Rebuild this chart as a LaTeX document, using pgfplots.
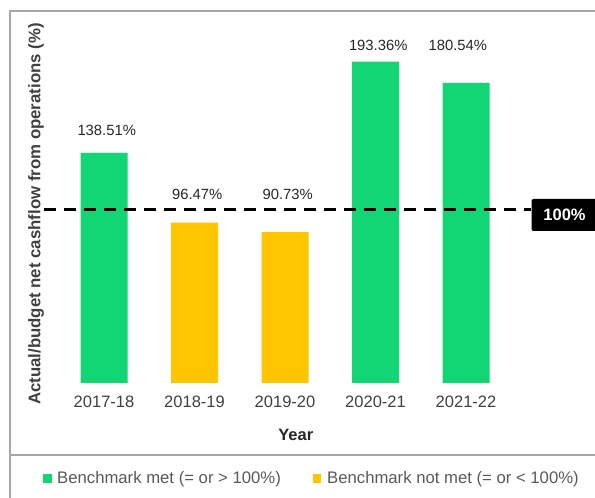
\documentclass[border=0pt]{standalone}
\usepackage{fontspec}
\setmainfont{Liberation Sans}
\usepackage{pgfplots}
\pgfplotsset{compat=1.18}
\definecolor{bgreen}{HTML}{11D673}
\definecolor{byellow}{HTML}{FFC600}
\definecolor{txtgray}{HTML}{404040}
\definecolor{leggray}{HTML}{595959}
\definecolor{darktxt}{HTML}{262626}
\definecolor{framegray}{HTML}{A6A6A6}
\begin{document}
\begin{tikzpicture}
\useasboundingbox (0bp,0bp) rectangle (595bp,498bp);
\draw[framegray, line width=1.5bp] (10bp,-1bp) -- (10bp,487bp) -- (596bp,487bp);
\draw[framegray, line width=1.5bp] (10bp,43bp) -- (596bp,43bp);
\begin{axis}[
  at={(45bp,115bp)}, anchor=south west,
  scale only axis, width=486bp, height=349bp,
  xmin=-0.652, xmax=4.718, ymin=0, ymax=210,
  clip=false,
  axis line style={draw=none},
  ytick=\empty,
  xtick={0,1,2,3,4},
  xticklabels={2017-18,2018-19,2019-20,2020-21,2021-22},
  major tick length=0pt,
  xticklabel style={font=\fontsize{16.5bp}{18bp}\selectfont, text=txtgray, inner sep=0pt, anchor=north, yshift=-13bp},
  xlabel={Year},
  xlabel style={at={(axis description cs:0.516,-0.149)}, anchor=center, inner sep=0pt, font=\bfseries\fontsize{16.5bp}{18bp}\selectfont, text=darktxt},
  ylabel={Actual/budget net cashflow from operations (\%)},
  ylabel style={at={(axis description cs:-0.0185,0.484)}, anchor=center, inner sep=0pt, font=\bfseries\fontsize{16.8bp}{18bp}\selectfont, text=txtgray},
]
\addplot[ybar, bar width=47bp, bar shift=0pt, fill=bgreen, draw=none] coordinates {(0,138.51) (3,193.36) (4,180.54)};
\addplot[ybar, bar width=47bp, bar shift=0pt, fill=byellow, draw=none] coordinates {(1,96.47) (2,90.73)};
\addplot[black, line width=3.2bp, dash pattern=on 12bp off 8bp] coordinates {(-0.663,104.2) (4.718,104.2)};
\node[font=\fontsize{14.8bp}{16bp}\selectfont, text=darktxt, inner sep=0pt] at (axis cs:0.03,152.1) {138.51\%};
\node[font=\fontsize{14.8bp}{16bp}\selectfont, text=darktxt, inner sep=0pt] at (axis cs:1.03,113.6) {96.47\%};
\node[font=\fontsize{14.8bp}{16bp}\selectfont, text=darktxt, inner sep=0pt] at (axis cs:2.03,113.6) {90.73\%};
\node[font=\fontsize{14.8bp}{16bp}\selectfont, text=darktxt, inner sep=0pt] at (axis cs:3.03,203.2) {193.36\%};
\node[font=\fontsize{14.8bp}{16bp}\selectfont, text=darktxt, inner sep=0pt] at (axis cs:3.91,203.2) {180.54\%};
\end{axis}
\node[fill=black, text=white, font=\bfseries\fontsize{16.5bp}{18bp}\selectfont, rounded corners=2bp, minimum width=66bp, minimum height=32bp, inner sep=0pt] at (564.5bp,283bp) {100\%};
\fill[bgreen] (43bp,14.5bp) rectangle (52bp,23.5bp);
\node[anchor=west, inner sep=0pt, text=leggray, font=\fontsize{16.7bp}{18bp}\selectfont] at (57bp,18.5bp) {Benchmark met (= or > 100\%)};
\fill[byellow] (313bp,14.5bp) rectangle (321bp,23.5bp);
\node[anchor=west, inner sep=0pt, text=leggray, font=\fontsize{16.7bp}{18bp}\selectfont] at (327bp,18.5bp) {Benchmark not met (= or < 100\%)};
\end{tikzpicture}
\end{document}
